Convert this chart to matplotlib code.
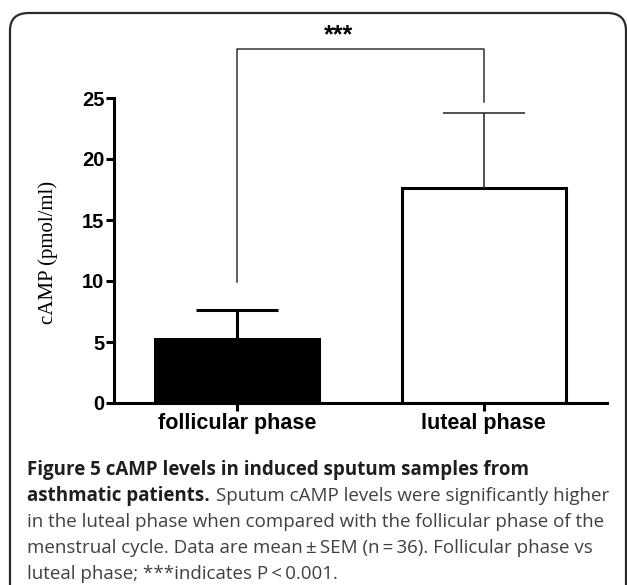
import matplotlib
matplotlib.use("Agg")
import matplotlib.pyplot as plt
from matplotlib.patches import FancyBboxPatch

# data
phases = ["follicular phase", "luteal phase"]
means = [5.25, 17.65]
sems = [2.35, 6.1]
bar_colors = ["black", "white"]
err_widths = [2.2, 1.2]
err_colors = ["black", "#333333"]

# significance bracket: left leg bottom, right leg bottom, top
bracket_y = [9.9, 24.7, 29.0]
sig_label = "***"

W, H = 627, 585
fig = plt.figure(figsize=(W / 100, H / 100), dpi=100)

# rounded frame around figure + caption
frame = FancyBboxPatch((10 / W, -0.1), (626 - 10) / W, (H - 13) / H + 0.1,
                       boxstyle="round,pad=0,rounding_size=0.03",
                       transform=fig.transFigure, fill=False,
                       edgecolor="#2a2a2a", linewidth=1.6)
fig.patches.append(frame)

ax = fig.add_axes([114 / W, (H - 403) / H, (607 - 114) / W, (403 - 98) / H])
x = list(range(len(phases)))
bw = 0.667
ax.bar(x, means, width=bw, color=bar_colors, edgecolor="black", linewidth=2.2, zorder=2)

# upper-only error bars
for xi, m, s, lw, c in zip(x, means, sems, err_widths, err_colors):
    ax.vlines(xi, m, m + s, color=c, linewidth=lw, zorder=3, clip_on=False)
    ax.hlines(m + s, xi - bw / 4, xi + bw / 4, color=c, linewidth=lw, zorder=3, clip_on=False)

# significance bracket
ax.plot([0, 0, 1, 1], [bracket_y[0], bracket_y[2], bracket_y[2], bracket_y[1]],
        color="#333333", linewidth=1.1, clip_on=False)
ax.text(0.41, bracket_y[2] + 0.55, sig_label, ha="center", va="baseline",
        fontsize=18, fontweight="bold", family="Liberation Sans")

ax.set_xlim(-0.5, 1.5)
ax.set_ylim(0, 25)
ax.set_yticks([0, 5, 10, 15, 20, 25])
ax.set_xticks(x)
ax.set_xticklabels(phases)
for sp in ["top", "right"]:
    ax.spines[sp].set_visible(False)
for sp in ["left", "bottom"]:
    ax.spines[sp].set_linewidth(2.2)
ax.tick_params(axis="both", width=2.2, length=6, direction="out", pad=1)
for lab in ax.get_yticklabels():
    lab.set_fontfamily("Liberation Sans")
    lab.set_fontweight("bold")
    lab.set_fontsize(14.5)
for lab in ax.get_xticklabels():
    lab.set_fontfamily("Liberation Sans")
    lab.set_fontweight("bold")
    lab.set_fontsize(15.5)

fig.text(48 / W, 1 - 252 / H, "cAMP (pmol/ml)", rotation=90, ha="center", va="center",
         family="Liberation Serif", fontsize=15)

# caption
cap_x = 27 / W
cap_bold = "#1e1e1e"
cap_reg = "#404040"
fs_bold = 13.5
fs_reg = 13.5
cap_family = "Open Sans"
baselines = [475, 501, 527, 553, 579]
fig.text(cap_x, 1 - baselines[0] / H, "Figure 5 cAMP levels in induced sputum samples from",
         fontsize=fs_bold, fontweight="bold", family=cap_family, color=cap_bold, va="baseline")
t_bold = fig.text(cap_x, 1 - baselines[1] / H, "asthmatic patients.",
                  fontsize=fs_bold, fontweight="bold", family=cap_family, color=cap_bold,
                  va="baseline")
fig.canvas.draw()
bb = t_bold.get_window_extent()
fig.text(bb.x1 / W + 6 / W, 1 - baselines[1] / H, "Sputum cAMP levels were significantly higher",
         fontsize=fs_reg, family=cap_family, color=cap_reg, va="baseline")
rest = [
    "in the luteal phase when compared with the follicular phase of the",
    "menstrual cycle. Data are mean\u2009\u00b1\u2009SEM (n\u2009=\u200936). Follicular phase vs",
    "luteal phase; ***indicates P\u2009<\u20090.001.",
]
for ly, txt in zip(baselines[2:], rest):
    fig.text(cap_x, 1 - ly / H, txt, fontsize=fs_reg, family=cap_family, color=cap_reg,
             va="baseline")

fig.savefig("out.png", dpi=100)
